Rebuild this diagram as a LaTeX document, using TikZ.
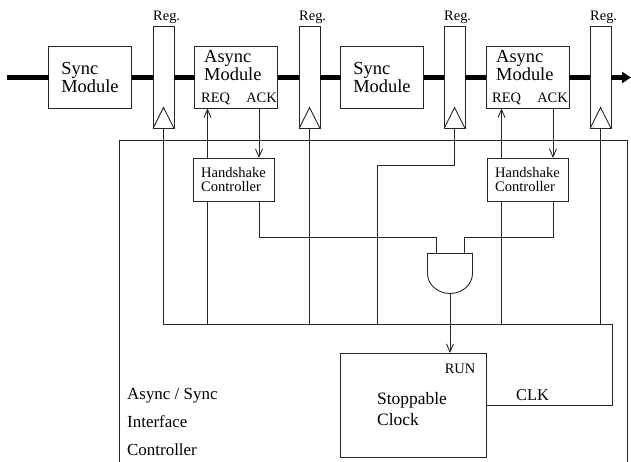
\documentclass[tikz,border=0pt]{standalone}
\usepackage{fontspec}
\setmainfont{Liberation Serif}
\usetikzlibrary{arrows.meta}
\begin{document}
\begin{tikzpicture}[x=1bp,y=-1bp,
  box/.style={draw=black!85, fill=white, line width=0.9bp, inner sep=0pt, outer sep=0pt},
  module/.style={box, minimum width=83bp, minimum height=62bp, align=left, font=\fontsize{18.5}{19}\selectfont},
  regbox/.style={box, minimum width=21bp, minimum height=102bp},
  hsbox/.style={box, minimum width=81bp, minimum height=43bp, align=left, font=\fontsize{14.6}{14.5}\selectfont},
  clkbox/.style={box, minimum width=146bp, minimum height=104bp},
  gatebox/.style={inner sep=0pt, outer sep=0pt, minimum width=45bp, minimum height=40bp},
  data/.style={line width=5.5bp, black},
  wire/.style={black!85, line width=0.9bp},
  sig/.style={wire, -{Straight Barb[length=8bp,width=7bp]}},
  lab/.style={inner sep=0pt, font=\fontsize{14.5}{14.5}\selectfont},
  modtext/.style={inner sep=0pt, align=left, font=\fontsize{18.5}{19}\selectfont},
  bigtext/.style={inner sep=0pt, align=left, font=\fontsize{17.5}{21}\selectfont}
]
\useasboundingbox (0,0) rectangle (631,462);

% outer interface controller frame
\draw[wire] (119,463) |- (627,140.5) -- (627,463);

% data path modules and registers
\node[module] (sync1) at (90,77.5) {Sync\\Module};
\node[regbox] (reg1) at (163.5,77.5) {};
\node[module] (async1) at (236,77.5) {};
\node[regbox] (reg2) at (309.5,77.5) {};
\node[module] (sync2) at (382,77.5) {Sync\\Module};
\node[regbox] (reg3) at (454.5,77.5) {};
\node[module] (async2) at (527.5,77.5) {};
\node[regbox] (reg4) at (600.5,77.5) {};

\coordinate (in) at (7,77.5);
\coordinate (out) at (631,77.5);

\draw[data] (in) -- (sync1.west);
\draw[data] (sync1.east) -- (reg1.west);
\draw[data] (reg1.east) -- (async1.west);
\draw[data] (async1.east) -- (reg2.west);
\draw[data] (reg2.east) -- (sync2.west);
\draw[data] (sync2.east) -- (reg3.west);
\draw[data] (reg3.east) -- (async2.west);
\draw[data] (async2.east) -- (reg4.west);
\draw[data, -{Triangle[length=9bp,width=11bp]}] (reg4.east) -- (out);

% register clock triangles and labels
\foreach \r in {reg1, reg2, reg3, reg4} {
  \draw[wire] (\r.south west) -- ([yshift=21bp]\r.south) -- (\r.south east);
}
\node[lab, anchor=base west] (rl1) at (153,21) {Reg.};
\node[lab, anchor=base west] (rl2) at (299,21) {Reg.};
\node[lab, anchor=base west] (rl3) at (444,21) {Reg.};
\node[lab, anchor=base west] (rl4) at (590,21) {Reg.};

% async module texts
\node[modtext, anchor=base west] (a1t) at (204,81) {Async\\Module};
\node[modtext, anchor=base west] (a2t) at (496,81) {Async\\Module};
\node[lab, anchor=base west] (rq1) at (201,103) {REQ};
\node[lab, anchor=base east] (ak1) at (277,103) {ACK};
\node[lab, anchor=base west] (rq2) at (492,103) {REQ};
\node[lab, anchor=base east] (ak2) at (568,103) {ACK};

% handshake controllers
\node[hsbox] (hs1) at (233.5,179.5) {Handshake\\Controller};
\node[hsbox] (hs2) at (527.5,179.5) {Handshake\\Controller};

\coordinate (req1) at (207.5,0);
\coordinate (ack1) at (259,0);
\coordinate (req2) at (501.5,0);
\coordinate (ack2) at (553,0);

\draw[sig] (hs1.north -| req1) -- (async1.south -| req1);
\draw[sig] (async1.south -| ack1) -- (hs1.north -| ack1);
\draw[sig] (hs2.north -| req2) -- (async2.south -| req2);
\draw[sig] (async2.south -| ack2) -- (hs2.north -| ack2);

% gate
\node[gatebox] (gate) at (450,273.5) {};
\draw[wire, fill=white] (gate.west) -- (gate.north west) -- (gate.north east) -- (gate.east)
  arc[start angle=0, end angle=180, x radius=22.5, y radius=20] -- cycle;

\coordinate (gin1) at (436,237.5);
\coordinate (gin2) at (464,237.5);
\draw[wire] (hs1.south -| ack1) |- (gin1) -- (gin1 |- gate.north);
\draw[wire] (hs2.south -| ack2) |- (gin2) -- (gin2 |- gate.north);

% clock bus
\coordinate (busR) at (612,324.5);
\coordinate (r3turn) at (377,165);
\node[clkbox] (clk) at (413,405) {};

\draw[wire] (reg1.south) |- (busR) |- (clk.east);
\draw[wire] (reg2.south) -- (reg2.south |- busR);
\draw[wire] (reg4.south) -- (reg4.south |- busR);
\draw[wire] (reg3.south) |- (r3turn) -- (r3turn |- busR);
\draw[wire] (hs1.south -| req1) -- (req1 |- busR);
\draw[wire] (hs2.south -| req2) -- (req2 |- busR);

\draw[sig] (gate.south) -- (clk.north -| gate.south);

% clock texts
\node[bigtext, anchor=base west] (clkt) at (377,425) {Stoppable\\Clock};
\node[lab, anchor=base east] (run) at (475.5,373) {RUN};
\node[inner sep=0pt, font=\fontsize{16.5}{16.5}\selectfont, anchor=base west] (clkl) at (516,400) {CLK};

% interface label
\node[inner sep=0pt, align=left, font=\fontsize{17}{28}\selectfont, anchor=base west] (iface) at (127,455) {Async / Sync\\Interface\\Controller};
\end{tikzpicture}
\end{document}
